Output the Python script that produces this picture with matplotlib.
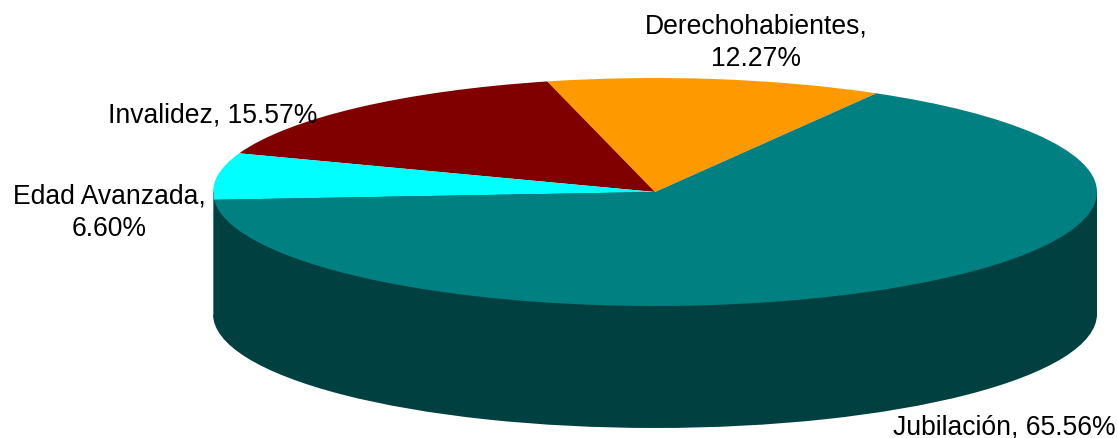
import matplotlib
matplotlib.use("Agg")
import matplotlib.pyplot as plt
from matplotlib.patches import Rectangle

labels = ['Derechohabientes,\n12.27%', 'Invalidez, 15.57%', 'Edad Avanzada,\n6.60%', 'Jubilación, 65.56%']
values = [12.27, 15.57, 6.60, 65.56]
topColors = ['#FF9900', '#800000', '#00FFFF', '#008080']
sideColor = '#004040'

W, H = 1118, 438
cx, cy = 655, 192
rx, ry = 442, 114
depth = 122
start = 59.95

plt.rcParams['font.family'] = ['Liberation Sans', 'DejaVu Sans']
fig = plt.figure(figsize=(W / 100, H / 100), dpi=100)
ax = fig.add_axes([0, 0, 1, 1])

# side of the cylinder: one dark disc (seam hidden under the band) plus the band up to the top face
ax.pie([sum(values)], colors=[sideColor], startangle=90, center=(0, -depth / ry), radius=1)
ax.add_patch(Rectangle((-1, -depth / ry), 2, depth / ry, facecolor=sideColor, edgecolor='none'))
ax.plot([-1, -1], [-depth / ry, 0], color='#4f9a9a', linewidth=0.6)

# top face
ax.pie(values, colors=topColors, startangle=start, counterclock=True, radius=1, normalize=True)

# pie forces equal aspect, undo it to get the squashed ellipse
ax.set_aspect('auto')
ax.set_xlim(-cx / rx, (W - cx) / rx)
ax.set_ylim((cy - H) / ry, cy / ry)
ax.axis('off')


def px(x, y):
    return (x - cx) / rx, (cy - y) / ry


fs = 19.1
ax.text(*px(756, 42.5), labels[0], ha='center', va='center', fontsize=fs, linespacing=1.33, color='black')
ax.text(*px(213, 116), labels[1], ha='center', va='center', fontsize=fs, color='black')
ax.text(*px(109, 213), labels[2], ha='center', va='center', fontsize=fs, linespacing=1.33, color='black')
ax.text(*px(1004, 428), labels[3], ha='center', va='center', fontsize=fs, color='black')

fig.savefig('out.png', dpi=100)
